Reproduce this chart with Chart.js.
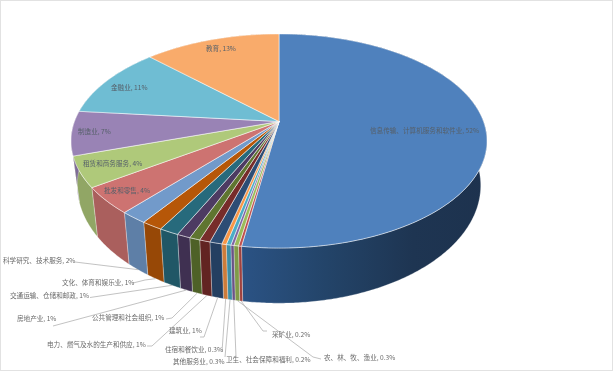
<!DOCTYPE html>
<html>
<head>
<meta charset="utf-8">
<style>
    html, body { margin: 0; padding: 0; background: #fff; }
    canvas { display: block; filter: blur(0.5px); }
</style>
<script src="https://cdn.jsdelivr.net/npm/chart.js@4"></script>
</head>
<body>
<canvas id="pie3d" width="614" height="371"></canvas>
<script>
const categories = ['信息传输、计算机服务和软件业', '采矿业', '农、林、牧、渔业', '卫生、社会保障和福利', '其他服务业',
    '住宿和餐饮业', '建筑业', '电力、燃气及水的生产和供应', '公共管理和社会组织', '房地产业',
    '交通运输、仓储和邮政', '文化、体育和娱乐业', '科学研究、技术服务', '批发和零售', '租赁和商务服务',
    '制造业', '金融业', '教育'];
// slice sizes
const values = [52.4, 0.2, 0.3, 0.2, 0.3, 0.3, 0.8, 0.7, 0.7, 0.9, 1.3, 1.4, 1.8, 4.0, 4.6, 6.7, 10.8, 12.6];
// the percentages as printed on the labels
const printedShares = ['52%', '0.2%', '0.3%', '0.2%', '0.3%', '0.3%', '1%', '1%', '1%', '1%', '1%', '1%', '2%', '4%', '4%', '7%', '11%', '13%'];
const colors = ['#4f81bd', '#c0504d', '#9bbb59', '#8064a2', '#4bacc6', '#f79646', '#2c4d75', '#772c2a', '#5f7530', '#4d3b62',
    '#276a7c', '#b65708', '#729aca', '#cd7371', '#afc97a', '#9983b5', '#6fbdd3', '#f9ab6b'];

// label placement, same order as categories: left x, middle y
const labelX = [370, 272, 324, 226, 173, 165, 169, 47, 92, 17, 10, 62, 3, 104, 83, 78, 111, 206];
const labelY = [130, 334, 357, 359, 361, 349, 330, 344, 317, 318, 295, 282, 260, 190, 163, 131, 87, 48];
// leader lines: list of [x, y] from the label to the elbow, the last stretch goes to the slice
const leaders = [null, [[267, 331], [263, 331]], [[321, 359], [313, 357]], [[236, 357]], [[225, 357]],
    [[222, 352]], [[200, 337], [204, 337]], [[147, 346], [152, 346]], [[166, 319], [172, 318]], [[53, 326]],
    [[90, 297.5]], [[133, 283], [145, 280]], [[75, 262]], null, null, null, null, null];

// projection of the tilted disc, the hub sits above the middle of the rim
const hubX = 279, hubY = 121.5, radX = 204.5, radY = 103.5, tilt = 0.182;
const wallDrop = 42.5, wallStretchY = 1.1, wallShrinkX = 0.97;

function topPoint(angle) {
    const a = angle + Math.PI / 2;
    const u = Math.sin(a), v = -Math.cos(a);
    const w = 1 / (1 - tilt * v);
    return [hubX + radX * u * w, hubY + radY * v * w];
}

function bottomPoint(angle) {
    const p = topPoint(angle);
    return [hubX + (p[0] - hubX) * wallShrinkX, hubY + (p[1] - hubY) * wallStretchY + wallDrop];
}

function rimPath(ctx, pointAt, from, to) {
    const steps = Math.max(2, Math.ceil(Math.abs(to - from) / 0.01));
    for (let i = 0; i <= steps; i++) {
        const p = pointAt(from + (to - from) * i / steps);
        ctx.lineTo(p[0], p[1]);
    }
}

function shade(hex, f) {
    const n = parseInt(hex.slice(1), 16);
    return `rgb(${(n >> 16) * f | 0},${((n >> 8) & 255) * f | 0},${(n & 255) * f | 0})`;
}

// top face of each slice goes through the projection instead of a flat circle
Chart.ArcElement.prototype.draw = function (ctx) {
    const o = this.options;
    ctx.beginPath();
    ctx.moveTo(hubX, hubY);
    rimPath(ctx, topPoint, this.startAngle, this.endAngle);
    ctx.closePath();
    ctx.fillStyle = o.backgroundColor;
    ctx.fill();
    ctx.strokeStyle = 'rgba(255,255,255,0.65)';
    ctx.lineWidth = 0.8;
    ctx.stroke();
};

const wallPlugin = {
    id: 'wall',
    beforeDatasetsDraw(chart) {
        const ctx = chart.ctx;
        chart.getDatasetMeta(0).data.forEach((arc, i) => {
            ctx.beginPath();
            const s = topPoint(arc.startAngle);
            ctx.moveTo(s[0], s[1]);
            rimPath(ctx, topPoint, arc.startAngle, arc.endAngle);
            rimPath(ctx, bottomPoint, arc.endAngle, arc.startAngle);
            ctx.closePath();
            if (i === 0) {
                const g = ctx.createLinearGradient(240, 0, 487, 0);
                g.addColorStop(0, '#2b5385');
                g.addColorStop(0.35, '#234469');
                g.addColorStop(0.7, '#1e3552');
                g.addColorStop(1, '#1d324e');
                ctx.fillStyle = g;
            } else {
                ctx.fillStyle = shade(colors[i], 0.83);
            }
            ctx.fill();
            ctx.strokeStyle = 'rgba(255,255,255,0.4)';
            ctx.lineWidth = 0.7;
            ctx.stroke();
        });
    }
};

const labelPlugin = {
    id: 'sliceLabels',
    afterDatasetsDraw(chart) {
        const ctx = chart.ctx;
        const arcs = chart.getDatasetMeta(0).data;
        ctx.save();
        ctx.strokeStyle = '#b3b3b3';
        ctx.lineWidth = 0.8;
        leaders.forEach((line, i) => {
            if (!line) return;
            const end = bottomPoint((arcs[i].startAngle + arcs[i].endAngle) / 2);
            ctx.beginPath();
            ctx.moveTo(line[0][0], line[0][1]);
            line.slice(1).forEach((p) => ctx.lineTo(p[0], p[1]));
            ctx.lineTo(end[0], end[1]);
            ctx.stroke();
        });
        ctx.font = '6.6px "Noto Sans CJK SC"';
        ctx.textBaseline = 'middle';
        categories.forEach((name, i) => {
            ctx.fillStyle = leaders[i] ? '#6a6a6a' : '#56606a';
            ctx.fillText(`${name}, ${printedShares[i]}`, labelX[i], labelY[i]);
        });
        // thin frame of the screenshot
        ctx.strokeStyle = '#e2e2e2';
        ctx.lineWidth = 1;
        ctx.strokeRect(0.5, 0.5, 612, 370);
        ctx.restore();
    }
};

new Chart(document.getElementById('pie3d'), {
    type: 'pie',
    data: {
        labels: categories,
        datasets: [{ data: values, backgroundColor: colors }]
    },
    options: {
        responsive: false,
        animation: false,
        plugins: { legend: { display: false }, tooltip: { enabled: false } }
    },
    plugins: [wallPlugin, labelPlugin]
});
</script>
</body>
</html>
